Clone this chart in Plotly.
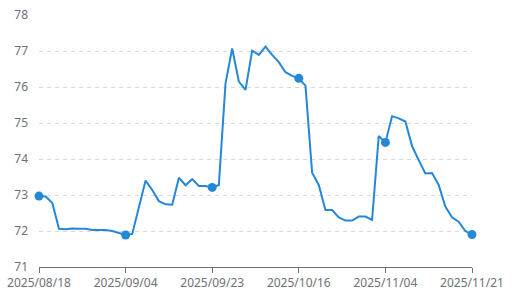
import plotly.graph_objects as go

dates = [
    "2025/08/18", "2025/08/19", "2025/08/20", "2025/08/21", "2025/08/22",
    "2025/08/25", "2025/08/26", "2025/08/27", "2025/08/28", "2025/08/29",
    "2025/09/01", "2025/09/02", "2025/09/03", "2025/09/04", "2025/09/05",
    "2025/09/08", "2025/09/09", "2025/09/10", "2025/09/11", "2025/09/12",
    "2025/09/15", "2025/09/16", "2025/09/17", "2025/09/18", "2025/09/19",
    "2025/09/22", "2025/09/23", "2025/09/24", "2025/09/25", "2025/09/26",
    "2025/09/29", "2025/09/30", "2025/10/07", "2025/10/08", "2025/10/09",
    "2025/10/10", "2025/10/13", "2025/10/14", "2025/10/15", "2025/10/16",
    "2025/10/17", "2025/10/20", "2025/10/21", "2025/10/22", "2025/10/23",
    "2025/10/24", "2025/10/27", "2025/10/28", "2025/10/29", "2025/10/30",
    "2025/10/31", "2025/11/03", "2025/11/04", "2025/11/05", "2025/11/06",
    "2025/11/07", "2025/11/10", "2025/11/11", "2025/11/12", "2025/11/13",
    "2025/11/14", "2025/11/17", "2025/11/18", "2025/11/19", "2025/11/20",
    "2025/11/21",
]

values = [
    72.97, 72.96, 72.78, 72.06, 72.05, 72.07, 72.06, 72.06, 72.03, 72.03,
    72.03, 72.00, 71.95, 71.89, 71.92, 72.65, 73.40, 73.14, 72.83, 72.74,
    72.73, 73.48, 73.27, 73.44, 73.25, 73.25, 73.21, 73.28, 76.10, 77.07,
    76.15, 75.92, 77.01, 76.89, 77.12, 76.89, 76.69, 76.41, 76.31, 76.24,
    76.04, 73.62, 73.28, 72.58, 72.58, 72.38, 72.29, 72.29, 72.40, 72.40,
    72.31, 74.64, 74.46, 75.19, 75.13, 75.04, 74.36, 73.97, 73.60, 73.61,
    73.28, 72.68, 72.38, 72.26, 72.00, 71.90,
]

tick_dates = ["2025/08/18", "2025/09/04", "2025/09/23", "2025/10/16", "2025/11/04", "2025/11/21"]
y_ticks = [71, 72, 73, 74, 75, 76, 77, 78]

line_color = "#2587d8"
label_color = "#6E7079"

tick_idx = [dates.index(d) for d in tick_dates]

fig = go.Figure()
fig.add_trace(go.Scatter(
    x=list(range(len(dates))),
    y=values,
    mode="lines",
    line=dict(color=line_color, width=2),
    cliponaxis=False,
    hoverinfo="skip",
))
fig.add_trace(go.Scatter(
    x=tick_idx,
    y=[values[i] for i in tick_idx],
    mode="markers",
    marker=dict(size=9, color=line_color, opacity=1, line=dict(width=0)),
    cliponaxis=False,
    hoverinfo="skip",
))

fig.update_layout(
    width=514,
    height=295,
    margin=dict(l=39, r=42, t=15, b=28),
    paper_bgcolor="white",
    plot_bgcolor="white",
    showlegend=False,
    font=dict(family="Noto Sans", size=12, color=label_color),
    xaxis=dict(
        range=[0, len(dates) - 1],
        tickmode="array",
        tickvals=tick_idx,
        ticktext=tick_dates,
        showgrid=False,
        zeroline=False,
        showline=True,
        linecolor=label_color,
        linewidth=1,
        ticks="outside",
        ticklen=5,
        tickcolor=label_color,
        tickfont=dict(size=12, color=label_color),
        automargin=False,
    ),
    yaxis=dict(
        range=[71, 78],
        tickmode="array",
        tickvals=y_ticks,
        ticktext=[str(v) for v in y_ticks],
        showgrid=True,
        gridcolor="#D6D9DF",
        griddash="4px,4px",
        gridwidth=1,
        zeroline=False,
        showline=False,
        ticks="",
        ticklabelstandoff=10,
        tickfont=dict(size=12, color=label_color),
        automargin=False,
    ),
)

fig.write_html("out.html")
